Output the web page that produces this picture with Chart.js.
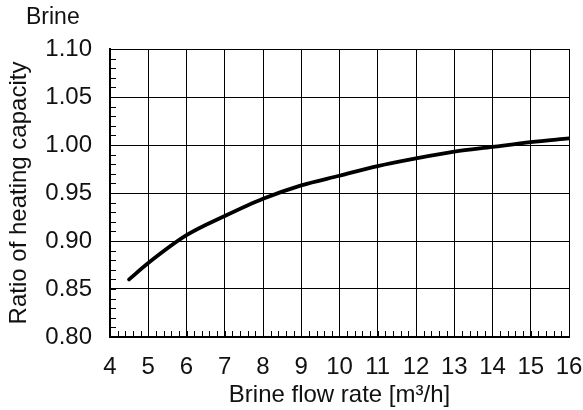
<!DOCTYPE html>
<html>
<head>
<meta charset="utf-8">
<script src="https://cdn.jsdelivr.net/npm/chart.js@4"></script>
<style>
  body { margin: 0; background: #fff; }
  #wrap { width: 583px; height: 410px; }
</style>
</head>
<body>
<div id="wrap"><canvas id="chart"></canvas></div>
<script>
// flow rate (m3/h) and capacity ratio
var flowRate = [4.5, 5, 6, 7, 8, 9, 10, 11, 12, 13, 14, 15, 16];
var capRatio = [0.860, 0.877, 0.906, 0.926, 0.944, 0.958, 0.968, 0.978, 0.986, 0.993, 0.998, 1.003, 1.007];
var xTicks = [4, 16, 1];      // min, max, step
var yTicks = [0.80, 1.10, 0.05];

var fontName = "'Liberation Sans', Arial, sans-serif";

var points = [];
for (var i = 0; i < flowRate.length; i++) {
  points.push({ x: flowRate[i], y: capRatio[i] });
}

// small ticks inside the plot + the "Brine" label
var minorTicks = {
  id: 'minorTicks',
  afterDraw: function (chart) {
    var ctx = chart.ctx;
    var area = chart.chartArea;
    var xs = chart.scales.x;
    var ys = chart.scales.y;
    ctx.save();
    ctx.strokeStyle = '#000';
    ctx.lineWidth = 1;
    ctx.beginPath();
    for (var v = xTicks[0]; v <= xTicks[1] + 1e-9; v += 0.2) {
      var px = Math.round(xs.getPixelForValue(v)) + 0.5;
      ctx.moveTo(px, area.bottom);
      ctx.lineTo(px, area.bottom - 6);
    }
    for (var w = yTicks[0]; w <= yTicks[1] + 1e-9; w += 0.01) {
      var py = Math.round(ys.getPixelForValue(w)) + 0.5;
      ctx.moveTo(area.left, py);
      ctx.lineTo(area.left + 6, py);
    }
    ctx.stroke();
    ctx.fillStyle = '#111';
    ctx.font = '23px ' + fontName;
    ctx.textBaseline = 'middle';
    ctx.fillText('Brine', 26, 18);
    ctx.restore();
  }
};

var ctx = document.getElementById('chart').getContext('2d');
var chart = new Chart(ctx, {
  type: 'scatter',
  data: {
    datasets: [{
      data: points,
      showLine: true,
      borderColor: '#000',
      borderWidth: 3.8,
      pointRadius: 0,
      tension: 0.4,
      cubicInterpolationMode: 'monotone',
      borderCapStyle: 'round'
    }]
  },
  options: {
    responsive: true,
    maintainAspectRatio: false,
    animation: false,
    layout: { padding: { left: 0, right: 14, top: 49, bottom: 0 } },
    plugins: { legend: { display: false }, tooltip: { enabled: false } },
    scales: {
      x: {
        type: 'linear',
        min: xTicks[0],
        max: xTicks[1],
        afterFit: function (s) { s.height = 73; s.paddingLeft = 0; s.paddingRight = 0; },
        ticks: {
          stepSize: xTicks[2],
          color: '#111',
          padding: 16,
          maxRotation: 0,
          font: { family: fontName, size: 24 }
        },
        grid: { color: '#000', lineWidth: 1, drawTicks: false },
        border: { color: '#000', width: 2 },
        title: {
          display: true,
          text: 'Brine flow rate [m³/h]',
          color: '#111',
          padding: { top: 0, bottom: 0 },
          font: { family: fontName, size: 24 }
        }
      },
      y: {
        type: 'linear',
        min: yTicks[0],
        max: yTicks[1],
        afterFit: function (s) { s.width = 110; s.paddingTop = 0; s.paddingBottom = 0; },
        ticks: {
          stepSize: yTicks[2],
          color: '#111',
          padding: 18,
          font: { family: fontName, size: 24 },
          callback: function (v) { return v.toFixed(2); }
        },
        grid: { color: '#000', lineWidth: 1, drawTicks: false },
        border: { color: '#000', width: 2 },
        title: {
          display: true,
          text: 'Ratio of heating capacity',
          color: '#111',
          padding: { top: 5, bottom: 0 },
          font: { family: fontName, size: 24 }
        }
      }
    }
  },
  plugins: [minorTicks]
});
</script>
</body>
</html>
